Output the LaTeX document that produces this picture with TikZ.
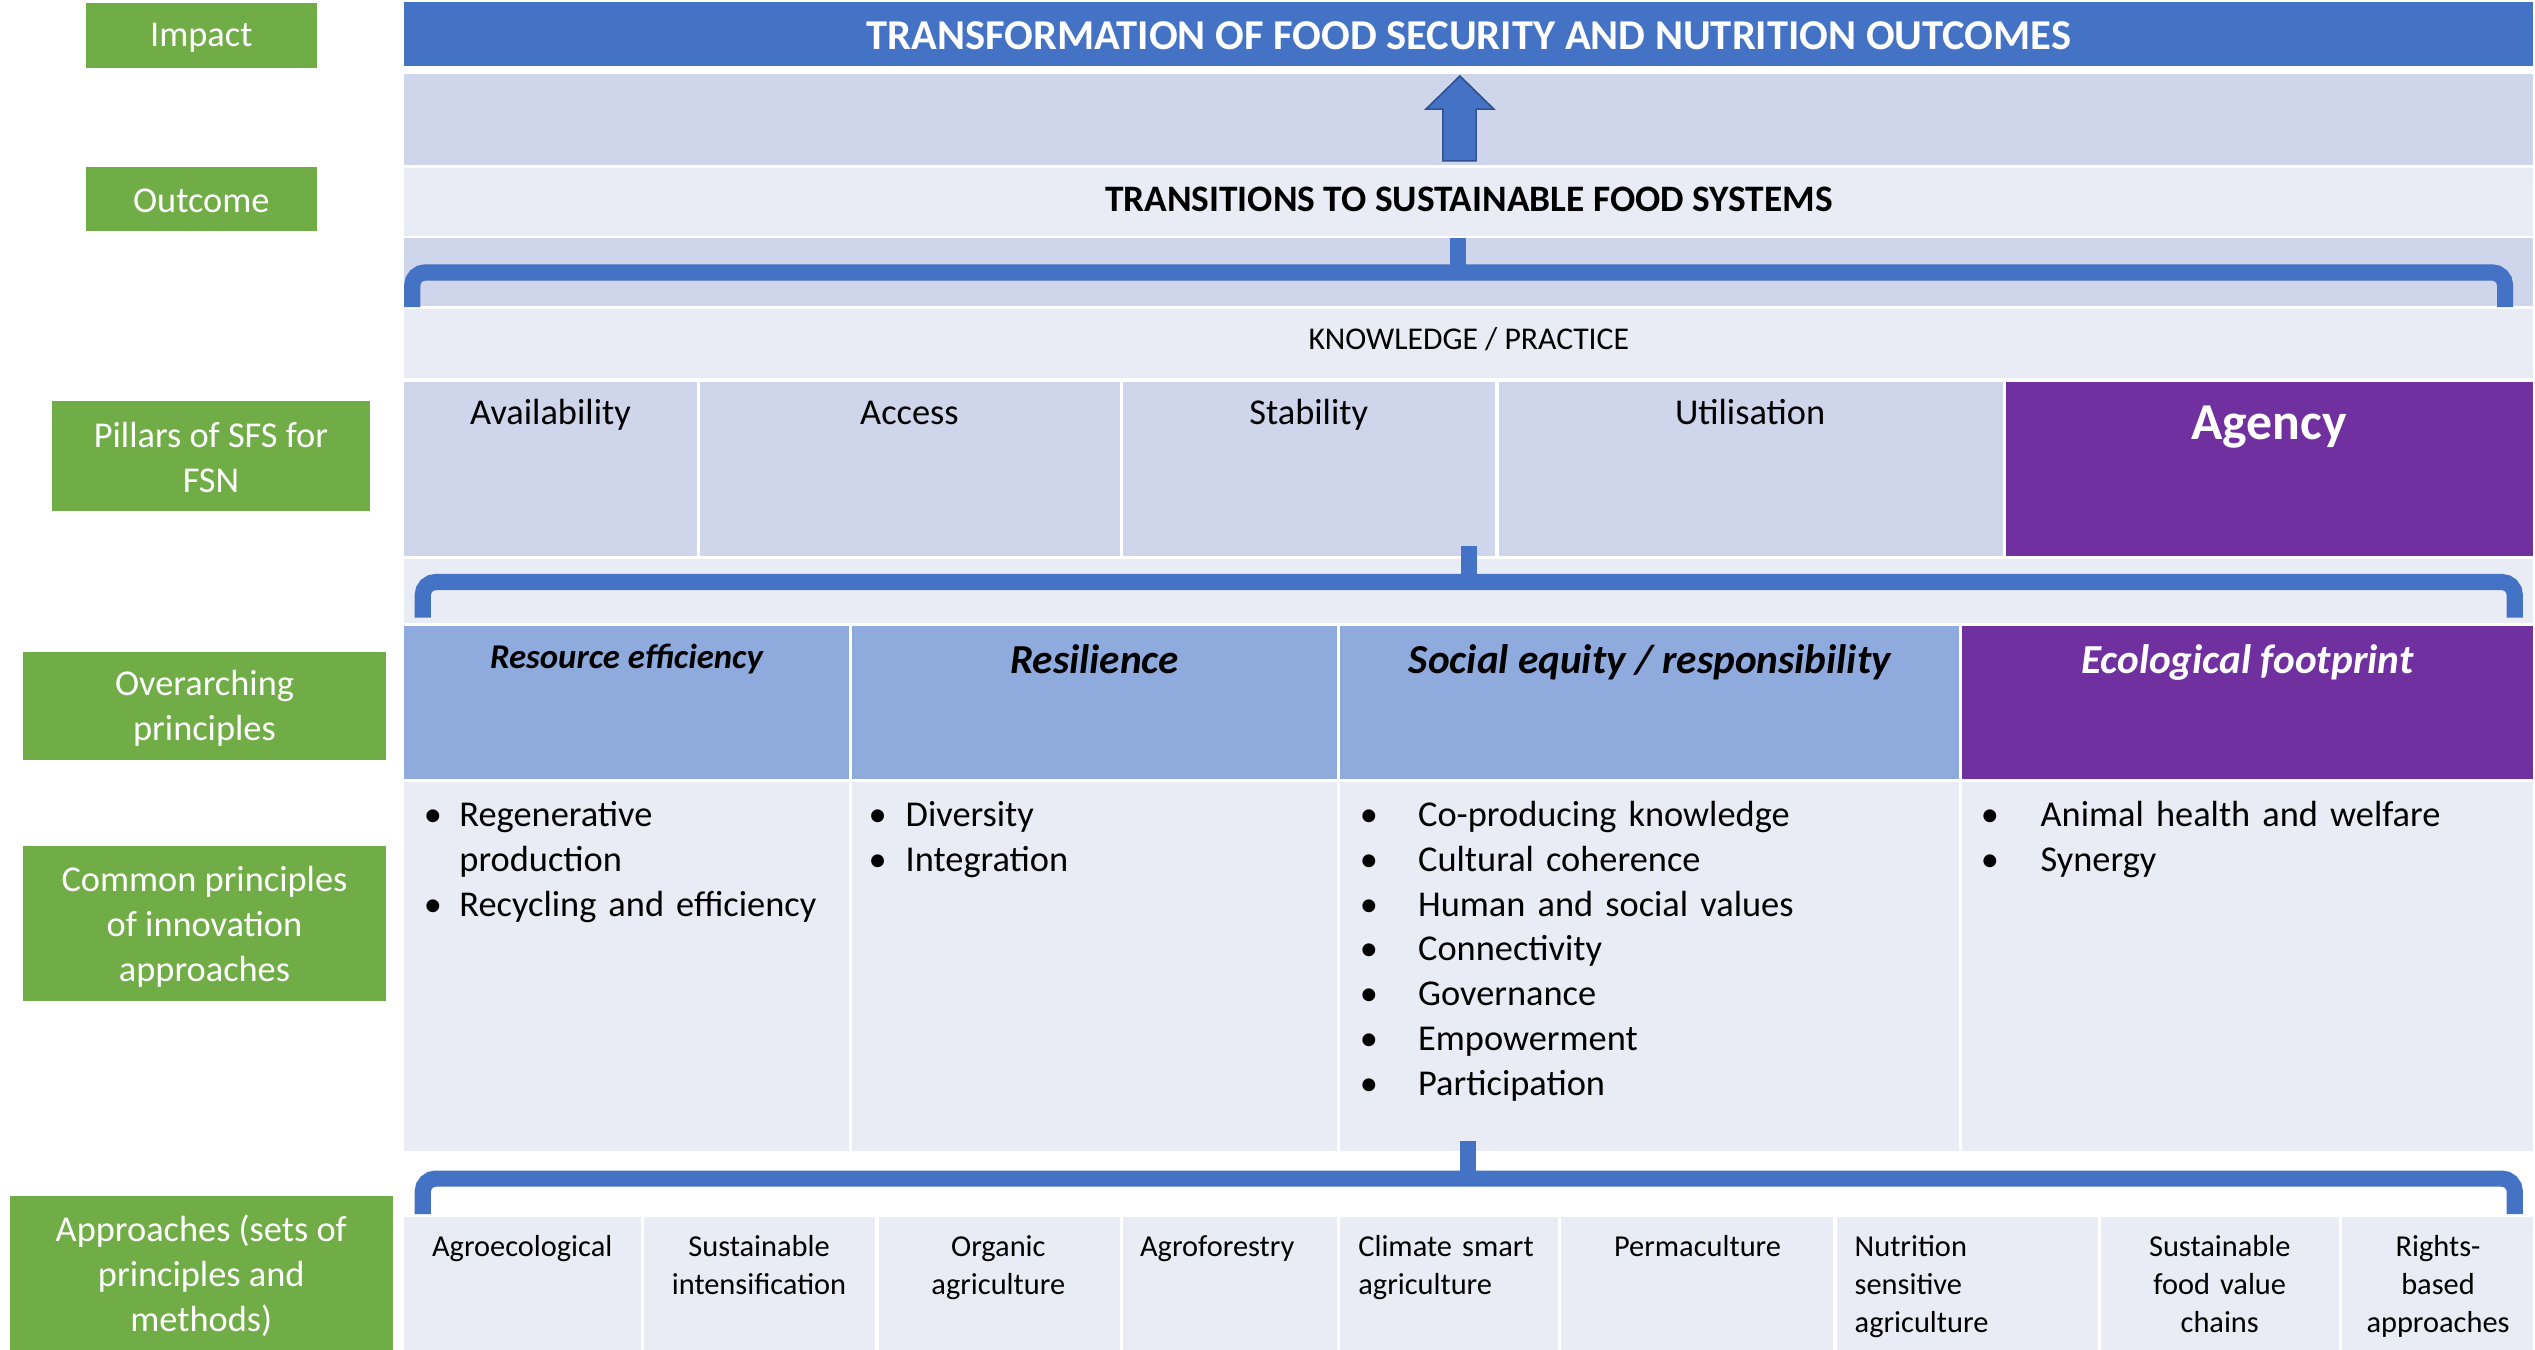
\documentclass[tikz,border=0pt]{standalone}
\usepackage{fontspec}
\setmainfont{Carlito}
\definecolor{fsblue}{HTML}{4472C4}
\definecolor{fsband}{HTML}{CFD5EA}
\definecolor{fslight}{HTML}{E9EBF5}
\definecolor{fsmid}{HTML}{8FAADC}
\definecolor{fspurple}{HTML}{7030A0}
\definecolor{fsgreen}{HTML}{70AD47}
\definecolor{fsdark}{HTML}{2F528F}
\newcommand\fsz[2]{\fontsize{#1}{#2}\selectfont}
\newcommand\bu[1]{\makebox[#1][l]{\textbullet}}
\begin{document}
\begin{tikzpicture}[x=1pt,y=-1pt,
  gtxt/.style={text=white, font=\fsz{22.5}{27.8}, align=center, inner sep=0},
  txt/.style={font=\fsz{22.5}{27.8}, inner sep=0},
  apx/.style={font=\fsz{18.8}{23.5}, inner sep=0},
  hdr/.style={font=\fsz{25.5}{30}\bfseries\itshape, inner sep=0, anchor=base},
  brace/.style={draw=fsblue, line width=10, rounded corners=8},
  stem/.style={draw=fsblue, line width=10}]
\useasboundingbox (0,0) rectangle (1568,835);
\fill[white] (0,0) rectangle (1568,835);
% green label boxes
\fill[fsgreen] (53,2) rectangle (196,42);
\fill[fsgreen] (53,103) rectangle (196,143);
\fill[fsgreen] (32,248) rectangle (229,316);
\fill[fsgreen] (14,403) rectangle (239,470);
\fill[fsgreen] (14,523) rectangle (239,619);
\fill[fsgreen] (6,740) rectangle (243,835);
\node[gtxt] (gImpact) at (124.5,23.5) {Impact};
\node[gtxt] (gOutcome) at (124.5,124.5) {Outcome};
\node[gtxt] (gPillars) at (130.5,283) {Pillars of SFS for\\FSN};
\node[gtxt] (gOver) at (126.5,438) {Overarching\\principles};
\node[gtxt] (gCommon) at (126.5,573) {Common principles\\of innovation\\approaches};
\node[gtxt] (gAppr) at (124.5,789) {Approaches (sets of\\principles and\\methods)};
% rows
\fill[fsblue] (250,1) rectangle (1567,41);
\fill[fsband] (250,46) rectangle (1567,102);
\fill[fslight] (250,104) rectangle (1567,146);
\fill[fsband] (250,147.5) rectangle (1567,189.5);
\fill[fslight] (250,191) rectangle (1567,233.5);
% pillars
\fill[fsband] (250,236) rectangle (431,344);
\fill[fsband] (433,236) rectangle (692.5,344);
\fill[fsband] (694.5,236) rectangle (925,344);
\fill[fsband] (927,236) rectangle (1239,344);
\fill[fspurple] (1240.5,236) rectangle (1567,344);
\fill[fslight] (250,346) rectangle (1567,385.5);
% overarching
\fill[fsmid] (250,387) rectangle (525,482);
\fill[fsmid] (527,387) rectangle (827,482);
\fill[fsmid] (829,387) rectangle (1212,482);
\fill[fspurple] (1213.5,387) rectangle (1567,482);
% common
\fill[fslight] (250,484) rectangle (525,712);
\fill[fslight] (527,484) rectangle (827,712);
\fill[fslight] (829,484) rectangle (1212,712);
\fill[fslight] (1213.5,484) rectangle (1567,712);
% approaches
\fill[fslight] (250,753) rectangle (396.5,835);
\fill[fslight] (398.5,753) rectangle (541.5,835);
\fill[fslight] (543.5,753) rectangle (692.5,835);
\fill[fslight] (694.5,753) rectangle (827,835);
\fill[fslight] (829,753) rectangle (963.5,835);
\fill[fslight] (965.5,753) rectangle (1134,835);
\fill[fslight] (1136,753) rectangle (1297.5,835);
\fill[fslight] (1299.5,753) rectangle (1446.5,835);
\fill[fslight] (1448.5,753) rectangle (1567,835);
% arrow
\draw[fill=fsblue, draw=fsdark, line width=1] (892.5,99.5) -- (892.5,67.5) -- (882,67.5) -- (903,47) -- (924,67.5) -- (913,67.5) -- (913,99.5) -- cycle;
% braces
\draw[brace] (255,190) -- (255,168.5) -- (1549.5,168.5) -- (1549.5,190);
\draw[stem] (902,168.5) -- (902,147.5);
\draw[brace] (261.5,382) -- (261.5,360) -- (1555.5,360) -- (1555.5,382);
\draw[stem] (908.5,360) -- (908.5,338);
\draw[brace] (261.5,751) -- (261.5,729) -- (1555.5,729) -- (1555.5,751);
\draw[stem] (908,729) -- (908,706);
% titles
\node[inner sep=0, anchor=base, text=white, font=\fsz{26.3}{30}\bfseries] (tImpact) at (908.5,30.5) {TRANSFORMATION OF FOOD SECURITY AND NUTRITION OUTCOMES};
\node[inner sep=0, anchor=base, font=\fsz{23.1}{27}\bfseries] (tOutcome) at (908.5,131) {TRANSITIONS TO SUSTAINABLE FOOD SYSTEMS};
\node[inner sep=0, anchor=base, font=\fsz{19.6}{23}] (tKP) at (908.5,216) {KNOWLEDGE / PRACTICE};
% pillars text
\node[txt, anchor=base] (pAvail) at (340.5,262.5) {Availability};
\node[txt, anchor=base] (pAccess) at (562.5,262.5) {Access};
\node[txt, anchor=base] (pStab) at (809.5,262.5) {Stability};
\node[txt, anchor=base] (pUtil) at (1082.5,262.5) {Utilisation};
\node[inner sep=0, anchor=base, text=white, font=\fsz{32}{38}\bfseries] (pAgency) at (1403.5,272) {Agency};
% overarching text
\node[hdr, font=\fsz{21.5}{26}\bfseries\itshape] (oRes) at (387.5,413.5) {Resource efficiency};
\node[hdr] (oResil) at (677,416.5) {Resilience};
\node[hdr] (oSoc) at (1020.5,416.5) {Social equity / responsibility};
\node[hdr, text=white] (oEco) at (1390,416.5) {Ecological footprint};
% bullet lists
\node[txt, anchor=base west, text width=260, align=left] (lRes) at (262,511) {\bu{22pt}Regenerative\\\hspace*{22pt}production\\\bu{22pt}Recycling and efficiency};
\node[txt, anchor=base west, text width=280, align=left] (lResil) at (537,511) {\bu{23pt}Diversity\\\bu{23pt}Integration};
\node[txt, anchor=base west, text width=370, align=left] (lSoc) at (841,511) {\bu{36pt}Co-producing knowledge\\\bu{36pt}Cultural coherence\\\bu{36pt}Human and social values\\\bu{36pt}Connectivity\\\bu{36pt}Governance\\\bu{36pt}Empowerment\\\bu{36pt}Participation};
\node[txt, anchor=base west, text width=330, align=left] (lEco) at (1225,511) {\bu{37pt}Animal health and welfare\\\bu{37pt}Synergy};
% approaches
\node[apx, anchor=base, text width=140, align=center] (a1) at (323,777) {Agroecological};
\node[apx, anchor=base, text width=140, align=center] (a2) at (469.5,777) {Sustainable\\intensification};
\node[apx, anchor=base, text width=140, align=center] (a3) at (617.5,777) {Organic\\agriculture};
\node[apx, anchor=base west, text width=125, align=left] (a4) at (705,777) {Agroforestry};
\node[apx, anchor=base west, text width=125, align=left] (a5) at (840,777) {Climate smart\\agriculture};
\node[apx, anchor=base, text width=160, align=center] (a6) at (1050,777) {Permaculture};
\node[apx, anchor=base west, text width=150, align=left] (a7) at (1147,777) {Nutrition\\sensitive\\agriculture};
\node[apx, anchor=base, text width=140, align=center] (a8) at (1373,777) {Sustainable\\food value\\chains};
\node[apx, anchor=base, text width=115, align=center] (a9) at (1508,777) {Rights-\\based\\approaches};
\end{tikzpicture}
\end{document}
